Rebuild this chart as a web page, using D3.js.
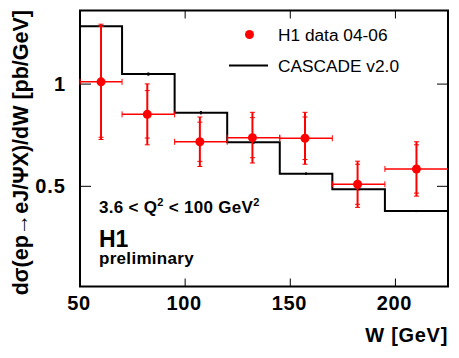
<!DOCTYPE html>
<html><head><meta charset="utf-8">
<script src="https://cdn.jsdelivr.net/npm/d3@7"></script>
<style>body{margin:0;background:#fff}svg{display:block}text{font-family:"Liberation Sans",Arial,Helvetica,sans-serif}</style>
</head><body><svg id="c" width="459" height="358"></svg>
<script>
// ---- data ----
const binEdges = [50, 70, 95, 120, 145, 170, 195, 225];
const mcValues = [1.283, 1.049, 0.860, 0.715, 0.562, 0.486, 0.379];
const mcErr = [0.004, 0.008, 0.008, 0.008, 0.006, 0.006, 0.005];
const dataW = [60, 82, 107, 132, 157, 182, 210];
const dataWLow = [50, 70, 95, 120, 145, 170, 195];
const dataWHigh = [70, 95, 120, 145, 170, 195, 225];
const dataY = [1.011, 0.852, 0.718, 0.738, 0.735, 0.510, 0.585];
const statErr = [0.271, 0.116, 0.096, 0.098, 0.104, 0.098, 0.118];
const totErr = [0.282, 0.149, 0.121, 0.124, 0.127, 0.113, 0.133];
const xTicks = [50, 100, 150, 200];
const yTicks = [0.5, 1];
const yTickLabels = ["0.5", "1"];

const svg = d3.select("#c");
const L = 80, R = 448, T = 10.5, B = 286.5;
const x = d3.scaleLinear().domain([50, 225]).range([L, R]);
const y = d3.scaleLinear().domain([0.01, 1.36]).range([B, T]);

// frame
svg.append("rect").attr("x", L).attr("y", T).attr("width", R - L).attr("height", B - T)
  .attr("fill", "none").attr("stroke", "#000").attr("stroke-width", 2);

// ticks
const g = svg.append("g").attr("stroke", "#000").attr("stroke-width", 1);
xTicks.forEach(t => {
  if (t === 50) return;
  g.append("line").attr("x1", x(t)).attr("x2", x(t)).attr("y1", B).attr("y2", B - 8);
  g.append("line").attr("x1", x(t)).attr("x2", x(t)).attr("y1", T).attr("y2", T + 8);
});
yTicks.forEach(t => {
  g.append("line").attr("x1", L).attr("x2", L + 11).attr("y1", y(t)).attr("y2", y(t));
  g.append("line").attr("x1", R).attr("x2", R - 11).attr("y1", y(t)).attr("y2", y(t));
});

// tick labels
xTicks.forEach(t => {
  svg.append("text").attr("x", x(t) - 1).attr("y", 309.5).attr("text-anchor", "middle")
    .attr("font-size", 20).attr("letter-spacing", 0.6).attr("font-weight", "bold").text(t);
});
yTicks.forEach((t, i) => {
  svg.append("text").attr("x", 66).attr("y", y(t) + 7).attr("text-anchor", "end")
    .attr("font-size", 20).attr("letter-spacing", 1).attr("font-weight", "bold").text(yTickLabels[i]);
});

// axis titles
svg.append("text").attr("x", 448).attr("y", 342).attr("text-anchor", "end")
  .attr("font-size", 20).attr("letter-spacing", 0.7).attr("font-weight", "bold").text("W [GeV]");
svg.append("text").attr("transform", "translate(28,10) rotate(-90)").attr("text-anchor", "end")
  .attr("font-size", 21.5).attr("font-weight", "bold").text("dσ(ep→eJ/ΨX)/dW [pb/GeV]");

// MC histogram
const stepPts = [];
mcValues.forEach((v, i) => {
  stepPts.push([x(binEdges[i]), y(v)]);
  stepPts.push([x(binEdges[i + 1]), y(v)]);
});
svg.append("path").attr("d", d3.line()(stepPts)).attr("fill", "none")
  .attr("stroke", "#000").attr("stroke-width", 2);
mcValues.forEach((v, i) => {
  const c = (binEdges[i] + binEdges[i + 1]) / 2;
  svg.append("line").attr("x1", x(c)).attr("x2", x(c)).attr("y1", y(v + mcErr[i])).attr("y2", y(v - mcErr[i]))
    .attr("stroke", "#000").attr("stroke-width", 2);
});

// data points
const red = "#ff0000";
const dg = svg.append("g").attr("stroke", red);
dataW.forEach((w, i) => {
  const cx = x(w), cy = y(dataY[i]);
  dg.append("line").attr("x1", x(dataWLow[i])).attr("x2", x(dataWHigh[i])).attr("y1", cy).attr("y2", cy).attr("stroke-width", 1.5);
  [dataWLow[i], dataWHigh[i]].forEach(e => {
    if (e >= 225) return;
    dg.append("line").attr("x1", x(e)).attr("x2", x(e)).attr("y1", cy - 3).attr("y2", cy + 3).attr("stroke-width", 1);
  });
  dg.append("line").attr("x1", cx).attr("x2", cx).attr("y1", y(dataY[i] + totErr[i])).attr("y2", y(dataY[i] - totErr[i])).attr("stroke-width", 2);
  [dataY[i] + totErr[i], dataY[i] - totErr[i], dataY[i] + statErr[i], dataY[i] - statErr[i]].forEach(v => {
    dg.append("line").attr("x1", cx - 2.5).attr("x2", cx + 2.5).attr("y1", y(v)).attr("y2", y(v)).attr("stroke-width", 1);
  });
  svg.append("circle").attr("cx", cx).attr("cy", cy).attr("r", 4.5).attr("fill", red);
});

// legend
svg.append("circle").attr("cx", 249.5).attr("cy", 34.5).attr("r", 4.5).attr("fill", red);
svg.append("text").attr("x", 278).attr("y", 41).attr("font-size", 17.3).text("H1 data 04-06");
svg.append("line").attr("x1", 229).attr("x2", 268).attr("y1", 65.5).attr("y2", 65.5).attr("stroke", "#000").attr("stroke-width", 2);
svg.append("text").attr("x", 278).attr("y", 72).attr("font-size", 17.3).text("CASCADE v2.0");

// annotations
const ann = svg.append("text").attr("x", 99).attr("y", 213).attr("font-size", 17).attr("letter-spacing", 0.3).attr("font-weight", "bold");
ann.append("tspan").text("3.6 < Q");
ann.append("tspan").attr("font-size", 11).attr("dy", -7).text("2");
ann.append("tspan").attr("dy", 7).text(" < 100 GeV");
ann.append("tspan").attr("font-size", 11).attr("dy", -7).text("2");
svg.append("text").attr("x", 99).attr("y", 246.5).attr("font-size", 23).attr("font-weight", "bold").text("H1");
svg.append("text").attr("x", 99).attr("y", 264).attr("font-size", 17).attr("letter-spacing", 0.3).attr("font-weight", "bold").text("preliminary");
</script></body></html>
